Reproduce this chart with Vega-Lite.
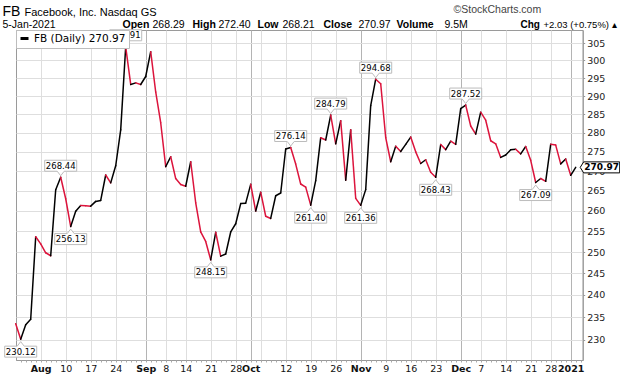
{
  "$schema": "https://vega.github.io/schema/vega-lite/v6.json",
  "width": 566.7,
  "height": 330,
  "autosize": {"type": "none"},
  "padding": {"left": 16, "top": 30, "right": 37.3, "bottom": 16},
  "background": "white",
  "config": {"font": "DejaVu Sans", "view": {"stroke": "#9a9a9a"}},
  "data": {"values": [
    {"d": "2020-07-27", "c": 233.50},
    {"d": "2020-07-28", "c": 230.12, "k": "lo"},
    {"d": "2020-07-29", "c": 233.29},
    {"d": "2020-07-30", "c": 234.50},
    {"d": "2020-07-31", "c": 253.67},
    {"d": "2020-08-03", "c": 251.96},
    {"d": "2020-08-04", "c": 249.83},
    {"d": "2020-08-05", "c": 249.12},
    {"d": "2020-08-06", "c": 265.28},
    {"d": "2020-08-07", "c": 268.44, "k": "hi"},
    {"d": "2020-08-10", "c": 263.00},
    {"d": "2020-08-11", "c": 256.13, "k": "lo"},
    {"d": "2020-08-12", "c": 259.89},
    {"d": "2020-08-13", "c": 261.30},
    {"d": "2020-08-14", "c": 261.24},
    {"d": "2020-08-17", "c": 261.16},
    {"d": "2020-08-18", "c": 262.34},
    {"d": "2020-08-19", "c": 262.59},
    {"d": "2020-08-20", "c": 269.01},
    {"d": "2020-08-21", "c": 267.01},
    {"d": "2020-08-24", "c": 271.39},
    {"d": "2020-08-25", "c": 280.82},
    {"d": "2020-08-26", "c": 303.91, "k": "hi"},
    {"d": "2020-08-27", "c": 293.22},
    {"d": "2020-08-28", "c": 293.66},
    {"d": "2020-08-31", "c": 293.20},
    {"d": "2020-09-01", "c": 295.44},
    {"d": "2020-09-02", "c": 302.50},
    {"d": "2020-09-03", "c": 291.12},
    {"d": "2020-09-04", "c": 282.73},
    {"d": "2020-09-08", "c": 271.16},
    {"d": "2020-09-09", "c": 273.72},
    {"d": "2020-09-10", "c": 268.09},
    {"d": "2020-09-11", "c": 266.61},
    {"d": "2020-09-14", "c": 266.15},
    {"d": "2020-09-15", "c": 272.42},
    {"d": "2020-09-16", "c": 262.00},
    {"d": "2020-09-17", "c": 254.82},
    {"d": "2020-09-18", "c": 252.53},
    {"d": "2020-09-21", "c": 248.15, "k": "lo"},
    {"d": "2020-09-22", "c": 254.75},
    {"d": "2020-09-23", "c": 249.02},
    {"d": "2020-09-24", "c": 249.53},
    {"d": "2020-09-25", "c": 254.82},
    {"d": "2020-09-28", "c": 256.82},
    {"d": "2020-09-29", "c": 261.79},
    {"d": "2020-09-30", "c": 261.90},
    {"d": "2020-10-01", "c": 266.63},
    {"d": "2020-10-02", "c": 259.94},
    {"d": "2020-10-05", "c": 264.65},
    {"d": "2020-10-06", "c": 258.66},
    {"d": "2020-10-07", "c": 258.12},
    {"d": "2020-10-08", "c": 263.76},
    {"d": "2020-10-09", "c": 264.45},
    {"d": "2020-10-12", "c": 275.75},
    {"d": "2020-10-13", "c": 276.14, "k": "hi"},
    {"d": "2020-10-14", "c": 271.82},
    {"d": "2020-10-15", "c": 266.72},
    {"d": "2020-10-16", "c": 265.93},
    {"d": "2020-10-19", "c": 261.40, "k": "lo"},
    {"d": "2020-10-20", "c": 267.56},
    {"d": "2020-10-21", "c": 278.73},
    {"d": "2020-10-22", "c": 278.12},
    {"d": "2020-10-23", "c": 284.79, "k": "hi"},
    {"d": "2020-10-26", "c": 277.11},
    {"d": "2020-10-27", "c": 283.29},
    {"d": "2020-10-28", "c": 267.67},
    {"d": "2020-10-29", "c": 280.83},
    {"d": "2020-10-30", "c": 263.11},
    {"d": "2020-11-02", "c": 261.36, "k": "lo"},
    {"d": "2020-11-03", "c": 265.30},
    {"d": "2020-11-04", "c": 287.38},
    {"d": "2020-11-05", "c": 294.68, "k": "hi"},
    {"d": "2020-11-06", "c": 293.41},
    {"d": "2020-11-09", "c": 278.77},
    {"d": "2020-11-10", "c": 272.43},
    {"d": "2020-11-11", "c": 276.48},
    {"d": "2020-11-12", "c": 275.08},
    {"d": "2020-11-13", "c": 276.95},
    {"d": "2020-11-16", "c": 278.90},
    {"d": "2020-11-17", "c": 275.00},
    {"d": "2020-11-18", "c": 271.97},
    {"d": "2020-11-19", "c": 272.94},
    {"d": "2020-11-20", "c": 269.70},
    {"d": "2020-11-23", "c": 268.43, "k": "lo"},
    {"d": "2020-11-24", "c": 276.92},
    {"d": "2020-11-25", "c": 275.59},
    {"d": "2020-11-27", "c": 277.81},
    {"d": "2020-11-30", "c": 276.97},
    {"d": "2020-12-01", "c": 286.55},
    {"d": "2020-12-02", "c": 287.52, "k": "hi"},
    {"d": "2020-12-03", "c": 281.85},
    {"d": "2020-12-04", "c": 279.70},
    {"d": "2020-12-07", "c": 285.58},
    {"d": "2020-12-08", "c": 283.40},
    {"d": "2020-12-09", "c": 277.92},
    {"d": "2020-12-10", "c": 277.12},
    {"d": "2020-12-11", "c": 273.55},
    {"d": "2020-12-14", "c": 274.19},
    {"d": "2020-12-15", "c": 275.55},
    {"d": "2020-12-16", "c": 275.67},
    {"d": "2020-12-17", "c": 274.48},
    {"d": "2020-12-18", "c": 276.40},
    {"d": "2020-12-21", "c": 272.79},
    {"d": "2020-12-22", "c": 267.09, "k": "lo"},
    {"d": "2020-12-23", "c": 268.11},
    {"d": "2020-12-24", "c": 267.40},
    {"d": "2020-12-28", "c": 277.00},
    {"d": "2020-12-29", "c": 276.78},
    {"d": "2020-12-30", "c": 271.87},
    {"d": "2020-12-31", "c": 273.16},
    {"d": "2021-01-04", "c": 268.94},
    {"d": "2021-01-05", "c": 270.97, "k": "last"}
  ]},
  "transform": [
    {"window": [{"op": "row_number", "as": "n"}], "sort": [{"field": "d"}]},
    {"window": [{"op": "lag", "field": "c", "as": "p"}, {"op": "lag", "field": "n", "as": "pn"}], "sort": [{"field": "d"}]}
  ],
  "resolve": {"axis": {"x": "independent", "y": "independent"}},
  "layer": [
    {
      "mark": {"type": "line", "strokeWidth": 1.5, "strokeOpacity": 0},
      "encoding": {
        "x": {"field": "n", "type": "quantitative",
          "scale": {"domain": [1.06, 114.4], "nice": false, "zero": false},
          "axis": {"orient": "bottom",
            "values": [6,11,16,21,27,31,35,40,45,48,50,55,60,65,70,75,80,85,90,94,99,104,108,112],
            "labelExpr": "['Aug','10','17','24','Sep','8','14','21','28','Oct','','12','19','26','Nov','9','16','23','Dec','7','14','21','28','2021'][indexof([6,11,16,21,27,31,35,40,45,48,50,55,60,65,70,75,80,85,90,94,99,104,108,112], datum.value)]",
            "labelOverlap": false, "labelFlush": false, "labelFont": "DejaVu Sans", "labelFontSize": 9.5, "labelColor": "#111", "labelPadding": 3,
            "labelFontWeight": {"condition": {"test": "indexof([6,27,48,70,90,112], datum.value) >= 0", "value": "bold"}, "value": "normal"},
            "ticks": false, "domain": true, "domainColor": "#999",
            "grid": true, "gridWidth": 1,
            "gridColor": {"condition": {"test": "indexof([27,48,70,90,112], datum.value) >= 0", "value": "#b4b4b4"}, "value": "#dedede"},
            "title": "FB", "titleX": -14, "titleY": -345, "titleAlign": "left", "titleBaseline": "alphabetic", "titleAngle": 0, "titleLimit": 600,
            "titleFont": "Liberation Sans", "titleFontSize": 14, "titleFontWeight": "normal", "titleColor": "#000"}},
        "y": {"field": "c", "type": "quantitative",
          "scale": {"type": "log", "domain": [225.6, 308.8], "nice": false, "zero": false},
          "axis": {"orient": "right",
            "values": [230,235,240,245,250,255,260,265,270,275,280,285,290,295,300,305],
            "labelFont": "DejaVu Sans", "labelFontSize": 9.5, "labelColor": "#222", "labelPadding": 2, "labelFlush": false, "labelOverlap": false,
            "tickSize": 2, "tickColor": "#999", "domainColor": "#999",
            "grid": true, "gridColor": "#dedede", "gridWidth": 1,
            "title": "©StockCharts.com", "titleX": -42, "titleY": -18, "titleAlign": "right", "titleBaseline": "alphabetic", "titleAngle": 0, "titleLimit": 600,
            "titleFont": "Liberation Sans", "titleFontSize": 10.5, "titleFontWeight": "normal", "titleColor": "#444"}},
        "color": {"datum": "FB (Daily) 270.97", "scale": {"range": ["#000000"]},
          "legend": {"orient": "top-left", "offset": 0, "title": null, "padding": 3, "fillColor": "white", "strokeColor": "#bdbdbd",
            "symbolType": "stroke", "symbolStrokeWidth": 3, "symbolSize": 64, "symbolStrokeColor": "#000", "symbolOpacity": 1,
            "labelFont": "DejaVu Sans", "labelFontSize": 10.5, "labelColor": "#000", "labelOffset": 4, "rowPadding": 0}}
      }
    },
    {
      "transform": [{"filter": "datum.p != null"}],
      "mark": {"type": "rule", "strokeWidth": 1.5, "strokeCap": "round"},
      "encoding": {
        "x": {"field": "pn", "type": "quantitative",
          "axis": {"orient": "top", "labels": false, "ticks": false, "domain": false, "grid": false,
            "title": "5-Jan-2021", "titleX": -14, "titleY": -2.7, "titleAlign": "left", "titleBaseline": "alphabetic", "titleAngle": 0, "titleLimit": 600,
            "titleFont": "Liberation Sans", "titleFontSize": 10.5, "titleFontWeight": "normal", "titleColor": "#000"}},
        "x2": {"field": "n"},
        "y": {"field": "p", "type": "quantitative",
          "axis": {"orient": "left", "labels": false, "ticks": false, "domain": false, "grid": false,
            "title": "Facebook, Inc.  Nasdaq GS", "titleX": 8, "titleY": -15, "titleAlign": "left", "titleBaseline": "alphabetic", "titleAngle": 0, "titleLimit": 600,
            "titleFont": "Liberation Sans", "titleFontSize": 11, "titleFontWeight": "normal", "titleColor": "#000"}},
        "y2": {"field": "c"},
        "color": {"condition": {"test": "datum.c < datum.p", "value": "#dc143c"}, "value": "#000000"}
      }
    },
    {
      "transform": [{"filter": "datum.k == 'hi'"}],
      "mark": {"type": "point", "shape": "M-16,-17H16V-6H3.5L0,-1.5L-3.5,-6H-16Z", "size": 4, "filled": true, "fill": "white", "stroke": "#bcbcbc", "strokeWidth": 1, "opacity": 1},
      "encoding": {
        "x": {"field": "n", "type": "quantitative",
          "axis": {"orient": "bottom", "labels": false, "ticks": true, "tickCount": 113, "tickSize": 2, "tickColor": "#aaa", "domain": false, "grid": false,
            "title": "Open", "titleX": 106, "titleY": -332.7, "titleAlign": "left", "titleBaseline": "alphabetic", "titleAngle": 0, "titleLimit": 600,
            "titleFont": "Liberation Sans", "titleFontSize": 10.5, "titleFontWeight": "bold", "titleColor": "#000"}},
        "y": {"field": "c", "type": "quantitative",
          "axis": {"orient": "left", "labels": false, "ticks": false, "domain": false, "grid": false,
            "title": "268.29", "titleX": 136, "titleY": -2.7, "titleAlign": "left", "titleBaseline": "alphabetic", "titleAngle": 0, "titleLimit": 600,
            "titleFont": "Liberation Sans", "titleFontSize": 10.5, "titleFontWeight": "normal", "titleColor": "#000"}}
      }
    },
    {
      "transform": [{"filter": "datum.k == 'hi'"}],
      "mark": {"type": "text", "dy": -11.5, "align": "center", "baseline": "middle", "font": "DejaVu Sans", "fontSize": 8.5, "color": "#000"},
      "encoding": {
        "x": {"field": "n", "type": "quantitative",
          "axis": {"orient": "top", "labels": false, "ticks": false, "domain": false, "grid": false,
            "title": "High", "titleX": 176, "titleY": -2.7, "titleAlign": "left", "titleBaseline": "alphabetic", "titleAngle": 0, "titleLimit": 600,
            "titleFont": "Liberation Sans", "titleFontSize": 10.5, "titleFontWeight": "bold", "titleColor": "#000"}},
        "y": {"field": "c", "type": "quantitative",
          "axis": {"orient": "left", "labels": false, "ticks": false, "domain": false, "grid": false,
            "title": "272.40", "titleX": 202, "titleY": -2.7, "titleAlign": "left", "titleBaseline": "alphabetic", "titleAngle": 0, "titleLimit": 600,
            "titleFont": "Liberation Sans", "titleFontSize": 10.5, "titleFontWeight": "normal", "titleColor": "#000"}},
        "text": {"field": "c", "type": "quantitative", "format": ".2f"}
      }
    },
    {
      "transform": [{"filter": "datum.k == 'lo'"}],
      "mark": {"type": "point", "shape": "M-16,7H-3.5L0,2.5L3.5,7H16V18H-16Z", "size": 4, "filled": true, "fill": "white", "stroke": "#bcbcbc", "strokeWidth": 1, "opacity": 1},
      "encoding": {
        "x": {"field": "n", "type": "quantitative",
          "axis": {"orient": "top", "labels": false, "ticks": false, "domain": false, "grid": false,
            "title": "Low", "titleX": 241, "titleY": -2.7, "titleAlign": "left", "titleBaseline": "alphabetic", "titleAngle": 0, "titleLimit": 600,
            "titleFont": "Liberation Sans", "titleFontSize": 10.5, "titleFontWeight": "bold", "titleColor": "#000"}},
        "y": {"field": "c", "type": "quantitative",
          "axis": {"orient": "left", "labels": false, "ticks": false, "domain": false, "grid": false,
            "title": "268.21", "titleX": 266, "titleY": -2.7, "titleAlign": "left", "titleBaseline": "alphabetic", "titleAngle": 0, "titleLimit": 600,
            "titleFont": "Liberation Sans", "titleFontSize": 10.5, "titleFontWeight": "normal", "titleColor": "#000"}}
      }
    },
    {
      "transform": [{"filter": "datum.k == 'lo'"}],
      "mark": {"type": "text", "dy": 12.5, "align": "center", "baseline": "middle", "font": "DejaVu Sans", "fontSize": 8.5, "color": "#000"},
      "encoding": {
        "x": {"field": "n", "type": "quantitative",
          "axis": {"orient": "top", "labels": false, "ticks": false, "domain": false, "grid": false,
            "title": "Close", "titleX": 307, "titleY": -2.7, "titleAlign": "left", "titleBaseline": "alphabetic", "titleAngle": 0, "titleLimit": 600,
            "titleFont": "Liberation Sans", "titleFontSize": 10.5, "titleFontWeight": "bold", "titleColor": "#000"}},
        "y": {"field": "c", "type": "quantitative",
          "axis": {"orient": "left", "labels": false, "ticks": false, "domain": false, "grid": false,
            "title": "270.97", "titleX": 342, "titleY": -2.7, "titleAlign": "left", "titleBaseline": "alphabetic", "titleAngle": 0, "titleLimit": 600,
            "titleFont": "Liberation Sans", "titleFontSize": 10.5, "titleFontWeight": "normal", "titleColor": "#000"}},
        "text": {"field": "c", "type": "quantitative", "format": ".2f"}
      }
    },
    {
      "transform": [{"filter": "datum.k == 'last'"}],
      "mark": {"type": "point", "shape": "M4.5,0L8,-5.5H44V5.5H8Z", "size": 4, "filled": true, "fill": "white", "stroke": "#000", "strokeWidth": 1, "opacity": 1},
      "encoding": {
        "x": {"field": "n", "type": "quantitative",
          "axis": {"orient": "top", "labels": false, "ticks": false, "domain": false, "grid": false,
            "title": "Volume", "titleX": 380, "titleY": -2.7, "titleAlign": "left", "titleBaseline": "alphabetic", "titleAngle": 0, "titleLimit": 600,
            "titleFont": "Liberation Sans", "titleFontSize": 10.5, "titleFontWeight": "bold", "titleColor": "#000"}},
        "y": {"field": "c", "type": "quantitative",
          "axis": {"orient": "left", "labels": false, "ticks": false, "domain": false, "grid": false,
            "title": "9.5M", "titleX": 428, "titleY": -2.7, "titleAlign": "left", "titleBaseline": "alphabetic", "titleAngle": 0, "titleLimit": 600,
            "titleFont": "Liberation Sans", "titleFontSize": 10.5, "titleFontWeight": "normal", "titleColor": "#000"}}
      }
    },
    {
      "transform": [{"filter": "datum.k == 'last'"}],
      "mark": {"type": "text", "dx": 26, "align": "center", "baseline": "middle", "font": "DejaVu Sans", "fontSize": 9, "fontWeight": "bold", "color": "#000"},
      "encoding": {
        "x": {"field": "n", "type": "quantitative",
          "axis": {"orient": "top", "labels": false, "ticks": false, "domain": false, "grid": false,
            "title": "Chg", "titleX": 504, "titleY": -2.7, "titleAlign": "left", "titleBaseline": "alphabetic", "titleAngle": 0, "titleLimit": 600,
            "titleFont": "Liberation Sans", "titleFontSize": 10, "titleFontWeight": "bold", "titleColor": "#000"}},
        "y": {"field": "c", "type": "quantitative",
          "axis": {"orient": "left", "labels": false, "ticks": false, "domain": false, "grid": false,
            "title": "+2.03 (+0.75%) ▴", "titleX": 527, "titleY": -2.7, "titleAlign": "left", "titleBaseline": "alphabetic", "titleAngle": 0, "titleLimit": 600,
            "titleFont": "Liberation Sans", "titleFontSize": 9.5, "titleFontWeight": "normal", "titleColor": "#000"}},
        "text": {"field": "c", "type": "quantitative", "format": ".2f"}
      }
    }
  ]
}
